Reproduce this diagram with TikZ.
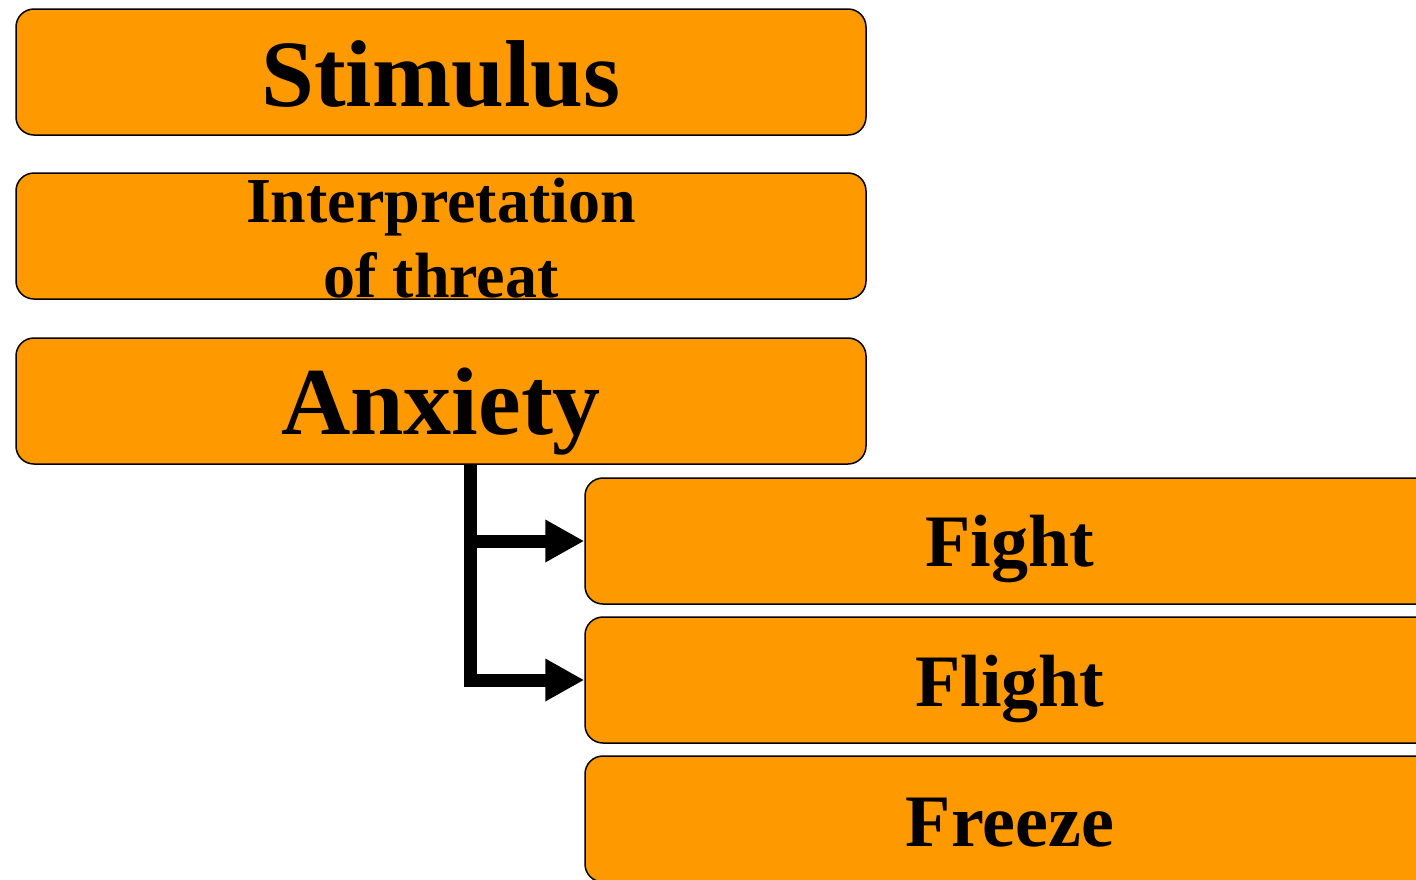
\documentclass[tikz,border=0pt]{standalone}
\usepackage{fontspec}
\setmainfont{Liberation Serif}
\usetikzlibrary{arrows.meta}

\definecolor{boxfill}{HTML}{FF9900}

\tikzset{
  stagebox/.style={draw=black, line width=1.5pt, fill=boxfill, rounded corners=18pt,
    minimum width=850pt, minimum height=126pt, inner sep=0pt},
  lbl/.style={anchor=base, inner sep=0pt, text=black},
  conn/.style={draw=black, line width=13pt, line join=miter},
  connarrow/.style={conn, -{Triangle[length=39pt, width=40pt]}},
}

\begin{document}
\begin{tikzpicture}[x=1pt, y=-1pt]
  \useasboundingbox (0,0) rectangle (1416,879);
  \clip (0,0) rectangle (1416,879);

  % stage boxes
  \node[stagebox] (stim)   at (441,72)  {};
  \node[stagebox] (interp) at (441,236) {};
  \node[stagebox] (anx)    at (441,401) {};
  \node[stagebox] (fight)  at (1010,541) {};
  \node[stagebox] (flight) at (1010,680) {};
  \node[stagebox] (freeze) at (1010,819) {};

  % labels, placed on their baselines
  \node[lbl, font=\fontsize{95}{114}\selectfont\bfseries] (tstim) at ([yshift=-34pt]stim.center) {Stimulus};
  \node[lbl, font=\fontsize{64}{76}\selectfont\bfseries] (tinterp1) at ([yshift=14pt]interp.center) {Interpretation};
  \node[lbl, font=\fontsize{64}{76}\selectfont\bfseries] (tinterp2) at ([yshift=-61pt]interp.center) {of threat};
  \node[lbl, font=\fontsize{96}{115}\selectfont\bfseries] (tanx) at ([yshift=-33pt]anx.center) {Anxiety};
  \node[lbl, font=\fontsize{74}{89}\selectfont\bfseries] (tfight) at ([yshift=-25pt]fight.center) {Fight};
  \node[lbl, font=\fontsize{74}{89}\selectfont\bfseries] (tflight) at ([yshift=-26pt]flight.center) {Flight};
  \node[lbl, font=\fontsize{74}{89}\selectfont\bfseries] (tfreeze) at ([yshift=-27pt]freeze.center) {Freeze};

  % branching connector from Anxiety to the responses
  \coordinate (trunk) at ([xshift=29pt]anx.south);
  \draw[connarrow] (trunk) |- (flight.west);
  \draw[connarrow] (trunk |- fight.west) -- (fight.west);
\end{tikzpicture}
\end{document}
